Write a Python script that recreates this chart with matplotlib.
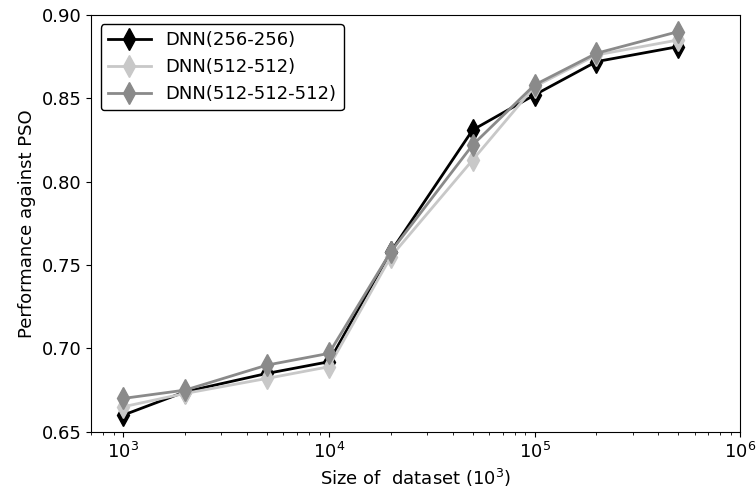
import matplotlib
matplotlib.use('Agg')
import matplotlib.pyplot as plt

# dataset sizes (x10^3)
sizes = [1e3, 2e3, 5e3, 1e4, 2e4, 5e4, 1e5, 2e5, 5e5]

# performance against PSO
dnn_256 = [0.660, 0.674, 0.685, 0.692, 0.758, 0.831, 0.852, 0.872, 0.881]
dnn_512 = [0.665, 0.673, 0.682, 0.689, 0.755, 0.813, 0.857, 0.876, 0.885]
dnn_512x3 = [0.670, 0.675, 0.690, 0.697, 0.758, 0.822, 0.858, 0.877, 0.890]

plt.rcParams['font.size'] = 13

fig, ax = plt.subplots(figsize=(7.56, 4.98), dpi=100)

ax.plot(sizes, dnn_256, '-', color='black', marker='d', markersize=11,
        linewidth=2, label='DNN(256-256)')
ax.plot(sizes, dnn_512, '-', color='#c8c8c8', marker='d', markersize=11,
        linewidth=2, label='DNN(512-512)')
ax.plot(sizes, dnn_512x3, '-', color='#8a8a8a', marker='d', markersize=11,
        linewidth=2, label='DNN(512-512-512)')

ax.set_xscale('log')
ax.set_xlim(700, 1e6)
ax.set_ylim(0.65, 0.90)
ax.set_yticks([0.65, 0.70, 0.75, 0.80, 0.85, 0.90])

ax.set_xlabel('Size of  dataset ($10^3$)')
ax.set_ylabel('Performance against PSO')

leg = ax.legend(loc='upper left', fancybox=True, framealpha=1, handlelength=2.4)
leg.get_frame().set_edgecolor('black')

fig.subplots_adjust(left=0.121, right=0.979, top=0.97, bottom=0.133)
fig.savefig('out.png')
